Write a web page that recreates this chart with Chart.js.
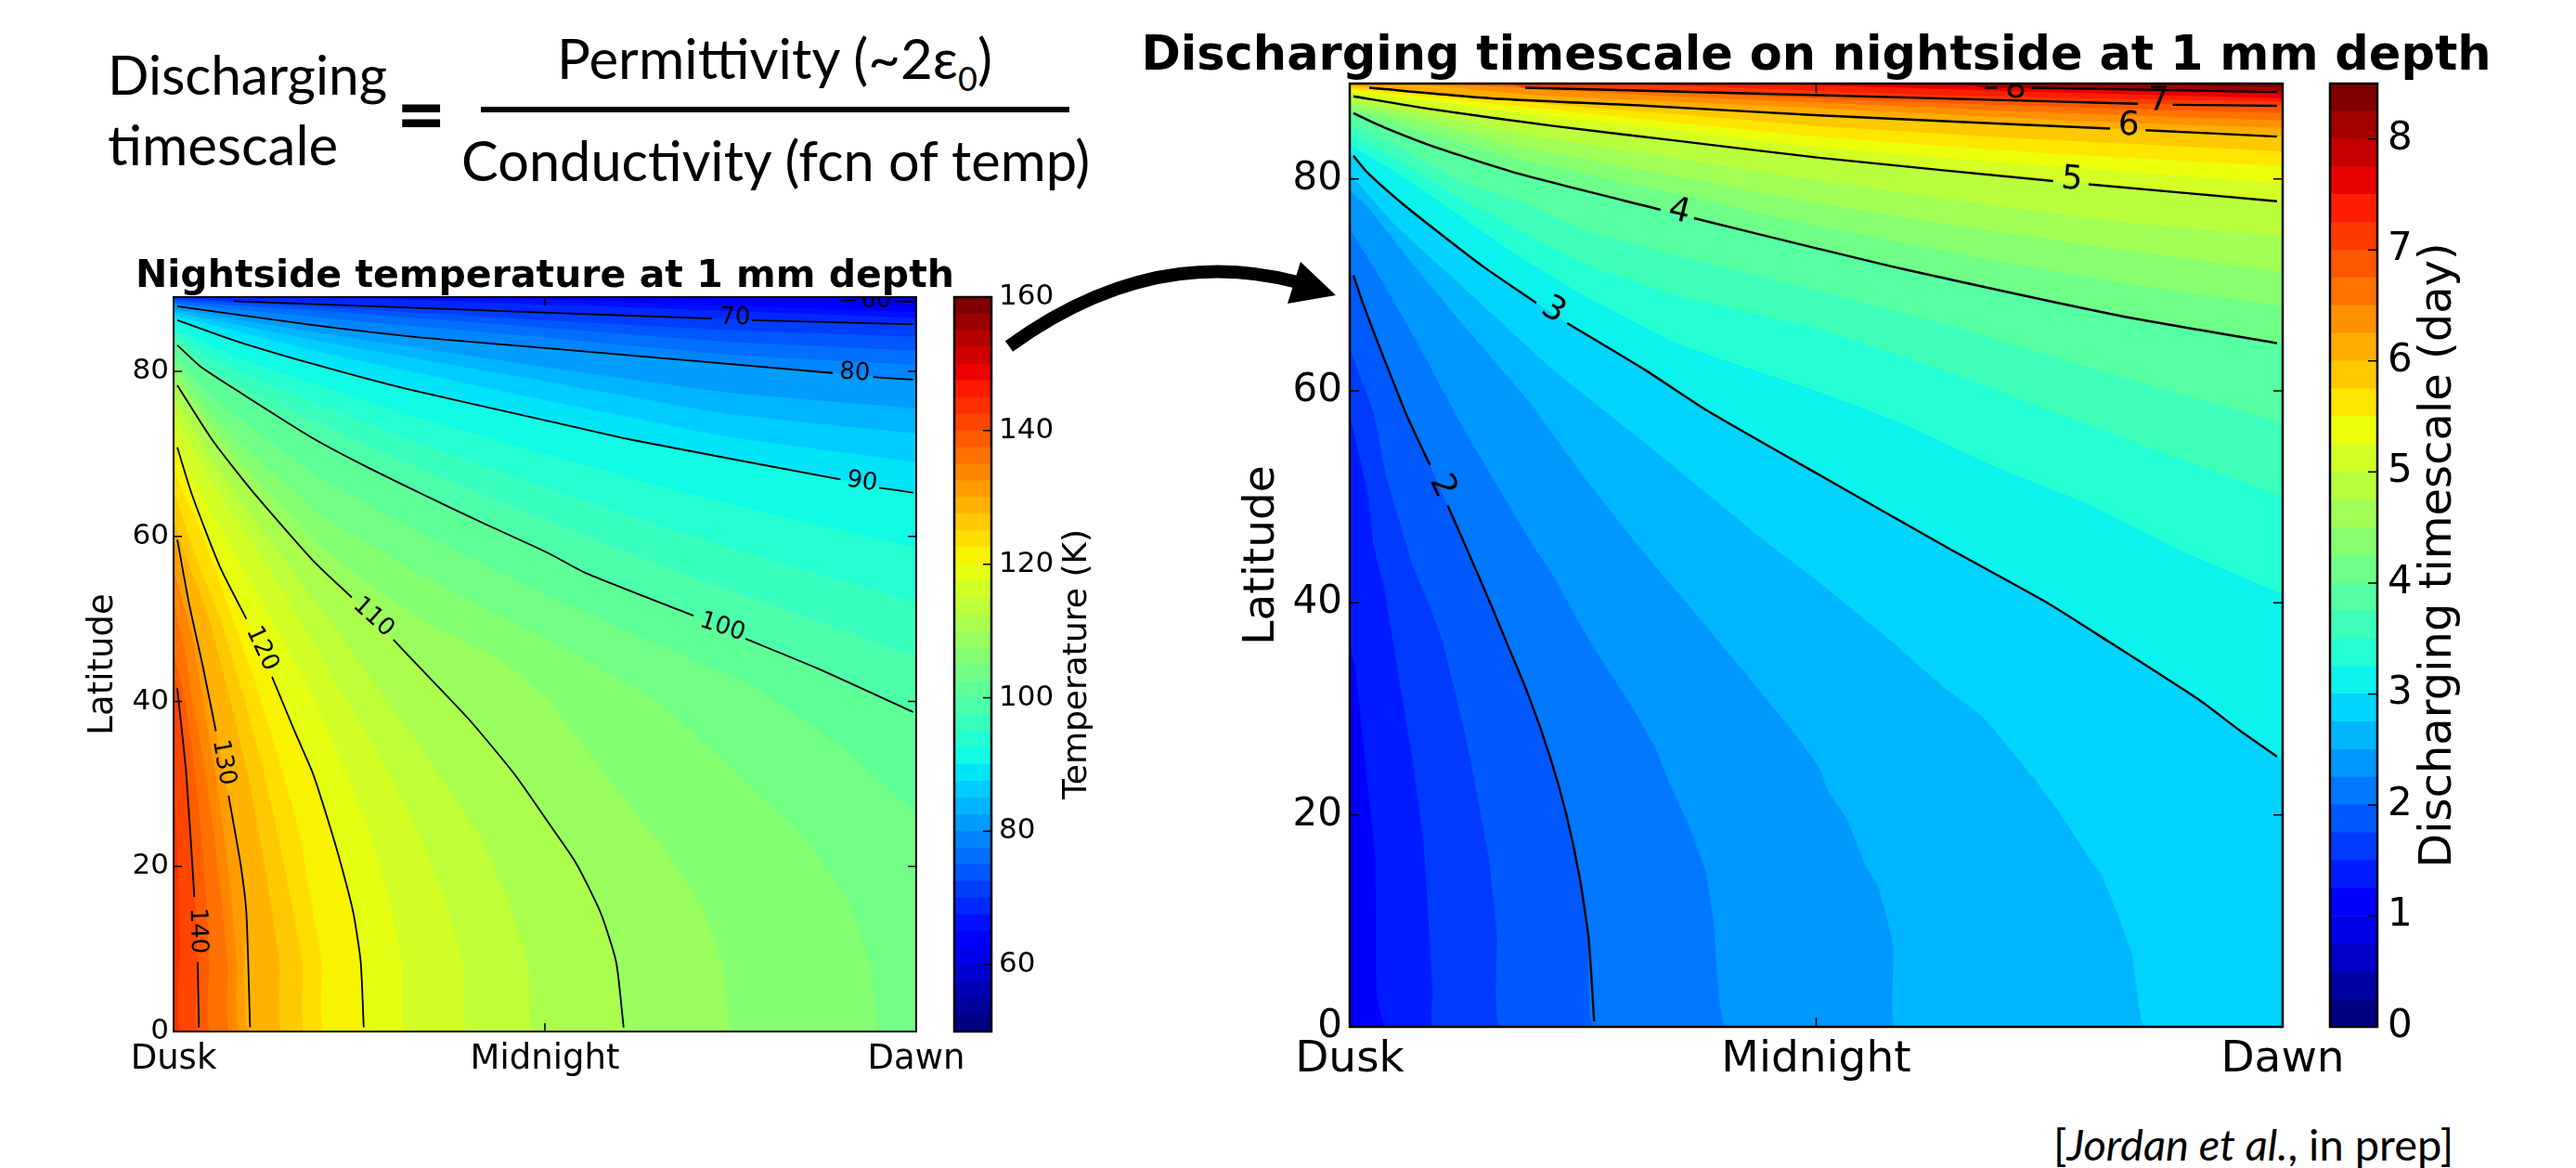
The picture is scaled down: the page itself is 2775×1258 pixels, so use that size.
<!DOCTYPE html>
<html>
<head>
<meta charset="utf-8">
<title>Discharging timescale</title>
<script src="https://cdn.jsdelivr.net/npm/chart.js@4"></script>
<style>
    html, body { margin: 0; background: #fff; }
    #page { position: relative; width: 2775px; height: 1258px; overflow: hidden; }
    canvas { position: absolute; }
    .eq { position: absolute; font-family: Lato, sans-serif; color: #000; white-space: nowrap; line-height: 1; }
    sub { font-size: 60%; line-height: 0; }
</style>
</head>
<body>
<div id="page">
    <canvas id="tempChart" width="1010" height="897" style="left:82px;top:274px"></canvas>
    <canvas id="timeChart" width="1485" height="1144" style="left:1214px;top:32px"></canvas>
    <canvas id="tempBar" width="210" height="831" style="left:1008px;top:300px"></canvas>
    <canvas id="timeBar" width="210" height="1056" style="left:2490px;top:70px"></canvas>

    <div class="eq" style="left:116px;top:50px;font-size:58.5px">Discharging</div>
    <div class="eq" style="left:116px;top:125px;font-size:60px">timescale</div>
    <div class="eq" style="left:427px;top:75px;font-size:92px;font-weight:700">=</div>
    <div class="eq" style="left:600px;top:32px;font-size:60px">Permittivity (~2ε<sub>0</sub>)</div>
    <div style="position:absolute;left:518px;top:115px;width:634px;height:6px;background:#000"></div>
    <div class="eq" style="left:497px;top:143px;font-size:59.5px">Conductivity (fcn of temp)</div>
    <div class="eq" style="left:2212px;top:1209px;font-size:47px">[<i>Jordan et al.</i>, in prep]</div>

    <svg width="2775" height="1258" style="position:absolute;left:0;top:0;pointer-events:none">
        <path d="M1087 373 Q1240 262 1398 304" fill="none" stroke="#000" stroke-width="14"/>
        <polygon points="1401,282 1439,318 1387,327" fill="#000"/>
    </svg>
</div>

<script>
// x axis runs 0 (dusk) .. 50 (midnight) .. 100 (dawn), y axis is latitude
const latMax = 89;
const xTickValues = [0, 50, 100];
const xTickLabels = ["Dusk", "Midnight", "Dawn"];
const latTicks = [0, 20, 40, 60, 80];

// temperature colour bar
const tempLevels = [50, 52.5, 55, 57.5, 60, 62.5, 65, 67.5, 70, 72.5, 75, 77.5, 80, 82.5, 85, 87.5, 90, 92.5, 95, 97.5, 100, 102.5,
    105, 107.5, 110, 112.5, 115, 117.5, 120, 122.5, 125, 127.5, 130, 132.5, 135, 137.5, 140, 142.5, 145, 147.5, 150, 152.5, 155, 157.5];
const tempBarTicks = [60, 80, 100, 120, 140, 160];

// discharging timescale colour bar
const timeLevels = [0, 0.25, 0.5, 0.75, 1, 1.25, 1.5, 1.75, 2, 2.25, 2.5, 2.75, 3, 3.25, 3.5, 3.75, 4, 4.25, 4.5, 4.75, 5, 5.25,
    5.5, 5.75, 6, 6.25, 6.5, 6.75, 7, 7.25, 7.5, 7.75, 8, 8.25];
const timeBarTicks = [0, 1, 2, 3, 4, 5, 6, 7, 8];

// where each filled band of the temperature map starts
const tempEdgeLevels = [57.5, 60, 62.5, 65, 67.5, 70, 72.5, 75, 77.5, 80, 82.5, 85, 87.5, 90, 92.5, 95, 97.5, 100, 102.5, 105, 107.5,
    110, 112.5, 115, 117.5, 120, 122.5, 125, 127.5, 130, 132.5, 135, 137.5, 140, 142.5];
const tempEdges = [
    [[0, 89], [100, 89]],
    [[0, 89], [88, 89], [100, 88.4]],
    [[0, 89], [60, 89], [100, 87.8]],
    [[0, 89], [40, 89], [100, 87.2]],
    [[0, 89], [25, 88.9], [60, 87.8], [100, 86.5]],
    [[0, 89], [8.1, 88.5], [50.4, 87.1], [72.5, 86.4], [100, 85.7]],
    [[0, 88.7], [20, 87.8], [50, 86.2], [75, 85], [100, 84.2]],
    [[0, 88.5], [20, 87.3], [50, 85.3], [75, 83.6], [100, 82.5]],
    [[0, 88.2], [20, 86.5], [50, 84.1], [75, 82], [100, 80.8]],
    [[0, 88], [18.75, 85.6], [33.3, 84.1], [50.4, 82.8], [88.75, 79.8], [100, 79]],
    [[0, 87.5], [20, 84.6], [50, 80.5], [75, 77.4], [100, 75.5]],
    [[0, 87.2], [20, 83.6], [50, 78.8], [75, 74.8], [100, 72.5]],
    [[0, 86.8], [20, 82.3], [50, 76.5], [75, 72], [100, 69]],
    [[0, 86.4], [8.3, 83.7], [18.75, 80.9], [31.25, 77.9], [50.4, 74], [61.7, 71.7], [89.8, 66.9], [100, 65.3]],
    [[0, 85.5], [5, 83.1], [10, 81.2], [20, 78.2], [33, 74.4], [50, 70], [70, 65], [85, 61.8], [100, 58.6]],
    [[0, 84.7], [5, 81.6], [10, 79.5], [20, 75.9], [33, 71.3], [50, 66], [70, 60], [85, 56], [100, 52]],
    [[0, 84], [5, 80.1], [10, 77.7], [20, 73.5], [33, 68.3], [50, 62], [70, 55], [85, 50.3], [100, 45.4]],
    [[0, 83.4], [3.75, 80.5], [9.2, 77.3], [18.75, 71.9], [25.4, 68.7], [33.3, 65.2], [41.7, 61.6], [50.4, 58], [55.4, 55.6], [70, 50.4], [77, 47.6], [86.7, 44], [100, 38.6]],
    [[0, 82], [5, 77], [10, 73.5], [20, 67], [33, 60.6], [50, 53], [65, 47], [78.3, 41.7], [90.8, 33.9], [100, 26.4]],
    [[0, 81], [5, 75], [10, 70.5], [20, 62.5], [33, 55.5], [55.4, 45.1], [65.8, 39.5], [74.2, 32.7], [84.5, 23.8], [90.8, 15.9], [94, 7.6], [95, 0], [100, 0]],
    [[0, 79.8], [5, 73.5], [10, 68], [20, 58.5], [33, 50], [43.8, 45.1], [50.4, 40.2], [57.3, 32], [65.2, 23], [71, 15.1], [74, 7.6], [75.3, 0], [100, 0]],
    [[0, 78.6], [5.2, 71.7], [10.4, 65.7], [18.75, 57.1], [24, 52.6], [29.6, 47.5], [32.1, 45.1], [39.6, 38], [45.8, 31.3], [50.4, 25.4], [54.2, 20.4], [57.5, 14.4], [59.6, 8.4], [60.6, 0], [100, 0]],
    [[0, 77], [5, 69.5], [10, 63], [20, 51], [28, 41], [35, 32], [41, 24], [45, 16], [47.8, 8], [48.5, 0], [100, 0]],
    [[0, 75], [3, 70], [8, 62.5], [15, 53], [22, 42], [28, 33], [33, 24], [36.5, 16], [39, 8], [39.6, 0], [100, 0]],
    [[0, 73], [2, 68], [6, 61.5], [12, 52], [18, 42], [22.5, 33], [26.5, 24], [29, 16], [30.8, 8], [31.25, 0], [100, 0]],
    [[0, 71.2], [2.5, 65], [6.25, 56.3], [9.8, 50], [13.25, 43], [16.25, 36.5], [18.75, 31.3], [20.8, 25.6], [22.5, 20.4], [24.2, 14.4], [25.2, 8.4], [25.6, 0], [100, 0]],
    [[0, 68], [4, 60], [8, 50], [11.5, 41], [14.5, 32], [17, 24], [18.5, 16], [20, 8], [20.4, 0], [100, 0]],
    [[0, 65.5], [2.8, 58], [6.3, 50], [9.3, 41], [12, 32], [14, 24], [15.8, 16], [17.4, 8], [17.7, 0], [100, 0]],
    [[0, 62], [1.5, 58], [4.8, 50], [7.4, 41], [9.8, 32], [11.5, 24], [13, 16], [14.3, 8], [14.6, 0], [100, 0]],
    [[0, 60], [2.1, 51.8], [4, 44], [5.7, 36.4], [7.4, 28.6], [9, 20.4], [9.8, 14.4], [10.3, 0], [100, 0]],
    [[0, 56], [2.5, 48], [4, 40], [5.5, 32], [6.8, 24], [7.8, 16], [8.5, 8], [9, 0], [100, 0]],
    [[0, 52], [1.3, 47], [2.6, 40], [4.2, 32], [5.4, 24], [6.5, 16], [7.3, 8], [7.7, 0], [100, 0]],
    [[0, 46], [1.6, 40], [2.8, 32], [3.7, 24], [4.4, 16], [4.8, 8], [5, 0], [100, 0]],
    [[0, 43], [0.5, 41.6], [1.7, 31.3], [2.8, 16.3], [3.25, 8.4], [3.4, 0], [100, 0]],
    [[0, 30], [0.5, 22], [0.9, 10], [1, 0], [100, 0]]
];

const timeEdgeLevels = [1, 1.25, 1.5, 1.75, 2, 2.25, 2.5, 2.75, 3, 3.25, 3.5, 3.75, 4, 4.25, 4.5, 4.75, 5, 5.25, 5.5, 5.75, 6, 6.25,
    6.5, 6.75, 7, 7.25, 7.5, 7.75, 8, 8.25];
const timeEdges = [
    [[0, 0], [100, 0]],
    [[0, 36], [0.6, 33.8], [1.9, 23], [2.75, 16], [2.9, 3.2], [3.9, 0], [100, 0]],
    [[0, 57.8], [1.9, 50.5], [2.6, 45.2], [3.7, 41.4], [5.7, 30.6], [6.6, 25.9], [7.9, 17.5], [8.9, 3.2], [8.9, 0], [100, 0]],
    [[0, 64], [2.6, 57.8], [3.9, 52], [6.9, 43.2], [8.6, 39.7], [9.9, 36.5], [10.9, 33], [11.9, 29.4], [12.9, 25.4], [13.9, 20.7], [14.9, 16], [15.8, 8.7], [16.2, 0], [100, 0]],
    [[0, 71.4], [1.4, 68.3], [2.9, 64.8], [4.6, 61], [6.2, 57.5], [8.6, 53], [10.5, 49.2], [12.5, 45.2], [15.2, 39.7], [16.7, 36.5], [19.2, 31.2], [21.5, 25.4], [23.2, 20.1], [24.6, 14.3], [25.6, 8.4], [26.2, 0], [100, 0]],
    [[0, 75.3], [2.9, 71.2], [6.9, 65.1], [11.9, 56.9], [19.8, 45.2], [21.8, 42.6], [25.1, 37.3], [27.8, 33.5], [30.4, 30], [32.8, 26.2], [34.4, 22.7], [36.4, 18.9], [38.1, 14.8], [39, 10], [40.4, 0], [100, 0]],
    [[0, 78.8], [1.9, 77.4], [6.9, 71.8], [11.9, 66.5], [19.2, 59], [25.1, 51.9], [31.1, 45.2], [36.1, 40], [41.4, 34.4], [47.4, 28], [50.3, 24.5], [51.3, 22.2], [53.3, 19.6], [55.3, 15.2], [56.7, 13.1], [58.3, 7.5], [58.5, 0], [100, 0]],
    [[0, 80.5], [5, 75.5], [11.9, 70], [21.8, 62], [31.8, 55], [45.4, 45.2], [49.4, 42.6], [54.3, 39.1], [58.3, 36.2], [63.3, 32.3], [67.9, 29.2], [73.2, 23.6], [75.9, 20.4], [79.2, 16], [80.6, 14.3], [82.5, 10.2], [83.9, 6.7], [85.2, 0], [100, 0]],
    [[0, 82.4], [1.9, 80.6], [5.6, 77.7], [9.9, 74.7], [14.2, 71.8], [20, 68.3], [23.3, 66.4], [31.8, 61.9], [38.4, 58.1], [50.3, 52.1], [64.1, 45.2], [74.6, 40.1], [80.2, 37], [90.8, 31], [95.5, 27.9], [100, 25.2]],
    [[0, 83.2], [5, 80.6], [11.9, 76.5], [18.5, 72.5], [25.1, 69], [35, 64.5], [50, 60], [59.3, 56.9], [69.3, 52.8], [79.2, 49.3], [89.2, 44.9], [98.5, 41.4], [100, 40.8]],
    [[0, 84.2], [5, 81.8], [11.9, 78.2], [18.5, 75], [25.1, 72], [35, 69], [50, 65.9], [65, 61.5], [80, 56.5], [100, 50]],
    [[0, 85.2], [5, 83.1], [11.9, 79.8], [18.5, 77.8], [25.1, 75.2], [35, 72.8], [50, 69.5], [65, 66], [80, 62], [100, 57]],
    [[0, 86.3], [3.6, 84.9], [9.5, 82.9], [18.5, 80.4], [33.3, 77.1], [36.9, 76.3], [50.3, 73.4], [59.3, 71.5], [82.5, 67.1], [100, 64.4]],
    [[0, 86.6], [10, 84], [18.5, 81.8], [33, 79], [50, 75.6], [65, 73], [82, 70.3], [100, 68]],
    [[0, 87], [10, 85], [18.5, 83], [33, 80.6], [50, 77.7], [65, 75.6], [82, 73.4], [100, 71.2]],
    [[0, 87.4], [10, 85.8], [18.5, 84.2], [33, 82.2], [50, 79.9], [65, 78], [82, 76], [100, 74.6]],
    [[0, 87.9], [8.6, 86.6], [21.8, 85], [35.1, 83.6], [50.3, 82], [75.4, 79.8], [79.2, 79.5], [100, 77.9]],
    [[0, 88.1], [10, 87.2], [22, 85.8], [35, 84.6], [50, 83], [75, 81.2], [100, 79.6]],
    [[0, 88.4], [10, 87.6], [22, 86.5], [35, 85.3], [50, 84], [75, 82.4], [100, 81.2]],
    [[0, 88.6], [10, 88], [22, 87], [35, 86.1], [50, 85], [75, 83.7], [100, 82.6]],
    [[0, 88.9], [2.1, 88.6], [15.2, 87.6], [31.8, 86.9], [50.3, 86], [81.5, 84.75], [85.3, 84.6], [100, 84]],
    [[7, 89], [20, 87.9], [50, 86.7], [80, 85.4], [100, 84.8]],
    [[10, 89], [30, 88], [50, 87.2], [80, 86.1], [100, 85.5]],
    [[14, 89], [35, 88.2], [50, 87.6], [80, 86.7], [100, 86.2]],
    [[17, 89], [18.8, 88.6], [50.3, 87.9], [84.5, 87.1], [100, 86.9]],
    [[30, 89], [60, 88], [85, 87.5], [100, 87.3]],
    [[45, 89], [70, 88.3], [100, 87.6]],
    [[55, 89], [80, 88.5], [100, 88]],
    [[66, 89], [68.1, 88.6], [100, 88.2]],
    [[80, 89], [100, 88.6]]
];

// contour lines, null leaves the gap for the inline label
const tempContourLabels = ["60", "70", "80", "90", "100", "110", "120", "130", "140"];
const tempLabelX = [94.6, 75.6, 91.7, 92.7, 73.9, 26.9, 11.9, 6.7, 3.25];
const tempLabelLat = [88.5, 86.5, 79.8, 66.6, 49, 50.2, 46.4, 32.6, 12.2];
const tempLabelAngle = [0, 1, 4, 9, 18, 42, 65, 80, 88];
const tempContours = [
    [[89.8, 88.6], [91.9, 88.6], null, [97.1, 88.5], [99.6, 88.4]],
    [[8.1, 88.5], [50.4, 87.1], [72.5, 86.4], null, [77.9, 86.2], [99.6, 85.7]],
    [[0.5, 87.9], [18.75, 85.6], [33.3, 84.1], [50.4, 82.8], [88.75, 79.8], null, [94.2, 79.3], [99.6, 79]],
    [[0.5, 86.2], [8.3, 83.7], [18.75, 80.9], [31.25, 77.9], [50.4, 74], [61.7, 71.7], [89.8, 66.9], null, [95, 65.9], [99.6, 65.3]],
    [[0.5, 83.2], [3.75, 80.5], [9.2, 77.3], [18.75, 71.9], [25.4, 68.7], [33.3, 65.2], [41.7, 61.6], [50.4, 58], [55.4, 55.6], [70, 50.4], null, [77, 47.6], [86.7, 44], [99.6, 38.7]],
    [[0.5, 78.3], [5.2, 71.7], [10.4, 65.7], [18.75, 57.1], [24, 52.6], null, [29.6, 47.5], [32.1, 45.1], [39.6, 38], [45.8, 31.3], [50.4, 25.4], [54.2, 20.4], [57.5, 14.4], [59.6, 8.4], [60.6, 0.5]],
    [[0.5, 70.8], [2.5, 65], [6.25, 56.3], [9.8, 50], null, [13.25, 43], [16.25, 36.5], [18.75, 31.3], [20.8, 25.6], [22.5, 20.4], [24.2, 14.4], [25.2, 8.4], [25.6, 0.5]],
    [[0.5, 59.6], [2.1, 51.8], [4, 44], [5.7, 36.4], null, [7.4, 28.6], [9, 20.4], [9.8, 14.4], [10.3, 0.5]],
    [[0.5, 41.6], [1.7, 31.3], [2.8, 16.3], null, [3.25, 8.4], [3.4, 0.5]]
];

const timeContourLabels = ["2", "3", "4", "5", "6", "7", "8"];
const timeLabelX = [9.9, 21.8, 35.3, 77.4, 83.5, 86.7, 71.4];
const timeLabelLat = [51, 67.6, 76.9, 79.9, 85, 87.3, 88.5];
const timeLabelAngle = [65, 32, 14, 5, 3, 1, 1];
const timeContours = [
    [[0.4, 70.9], [1.4, 68.3], [2.9, 64.8], [4.6, 61], [6.2, 57.5], [8.6, 53], null, [10.5, 49.2], [12.5, 45.2], [15.2, 39.7], [16.7, 36.5], [19.2, 31.2], [21.5, 25.4], [23.2, 20.1], [24.6, 14.3], [25.6, 8.4], [26.2, 0.5]],
    [[0.4, 82.2], [1.9, 80.6], [5.6, 77.7], [9.9, 74.7], [14.2, 71.8], [20, 68.3], null, [23.3, 66.4], [31.8, 61.9], [38.4, 58.1], [50.3, 52.1], [64.1, 45.2], [74.6, 40.1], [80.2, 37], [90.8, 31], [95.5, 27.9], [99.4, 25.5]],
    [[0.4, 86.2], [3.6, 84.9], [9.5, 82.9], [18.5, 80.4], [33.3, 77.1], null, [36.9, 76.3], [50.3, 73.4], [59.3, 71.5], [82.5, 67.1], [99.4, 64.5]],
    [[0.4, 87.8], [8.6, 86.6], [21.8, 85], [35.1, 83.6], [50.3, 82], [75.4, 79.8], null, [79.2, 79.5], [99.4, 77.9]],
    [[2.1, 88.6], [15.2, 87.6], [31.8, 86.9], [50.3, 86], [81.5, 84.75], null, [85.3, 84.6], [99.4, 84]],
    [[18.8, 88.6], [50.3, 87.9], [84.5, 87.1], null, [88.2, 87], [99.4, 86.9]],
    [[68.1, 88.6], [69.4, 88.6], null, [73.1, 88.6], [99.4, 88.2]]
];

// matplotlib jet
function jetChannel(stops, t) {
    for (let i = 1; i < stops.length; i++) {
        if (t <= stops[i][0]) {
            const a = stops[i - 1], b = stops[i];
            return a[1] + (b[1] - a[1]) * (t - a[0]) / (b[0] - a[0]);
        }
    }
    return stops[stops.length - 1][1];
}
function jet(t) {
    const r = jetChannel([[0, 0], [0.35, 0], [0.66, 1], [0.89, 1], [1, 0.5]], t);
    const g = jetChannel([[0, 0], [0.125, 0], [0.375, 1], [0.64, 1], [0.91, 0], [1, 0]], t);
    const b = jetChannel([[0, 0.5], [0.11, 1], [0.34, 1], [0.65, 0], [1, 0]], t);
    return `rgb(${Math.round(r * 255)},${Math.round(g * 255)},${Math.round(b * 255)})`;
}
const bandColor = (levels, level) => jet(levels.indexOf(level) / (levels.length - 1));

const toPoints = (list) => list.map((p) => (p ? { x: p[0], y: p[1] } : { x: NaN, y: NaN }));

// spines, inward ticks and inline contour labels
const framePlugin = {
    id: "frame",
    afterDatasetsDraw(chart, args, opts) {
        const { ctx, chartArea: a, scales } = chart;
        ctx.save();
        ctx.strokeStyle = "#000";
        ctx.lineWidth = opts.tickWidth;
        ctx.beginPath();
        scales.y.ticks.forEach((t) => {
            const py = scales.y.getPixelForValue(t.value);
            if (opts.leftTicks) {
                ctx.moveTo(a.left, py);
                ctx.lineTo(a.left + opts.tickLen, py);
            }
            ctx.moveTo(a.right, py);
            ctx.lineTo(a.right - opts.tickLen, py);
        });
        if (opts.xTicks) {
            scales.x.ticks.forEach((t) => {
                const px = scales.x.getPixelForValue(t.value);
                ctx.moveTo(px, a.top);
                ctx.lineTo(px, a.top + opts.tickLen);
                ctx.moveTo(px, a.bottom);
                ctx.lineTo(px, a.bottom - opts.tickLen);
            });
        }
        ctx.stroke();

        if (opts.labels) {
            ctx.save();
            ctx.beginPath();
            ctx.rect(a.left, a.top, a.width, a.height);
            ctx.clip();
            ctx.fillStyle = "#000";
            ctx.font = opts.labelFont;
            ctx.textAlign = "center";
            ctx.textBaseline = "middle";
            opts.labels.forEach((text, i) => {
                ctx.save();
                ctx.translate(scales.x.getPixelForValue(opts.labelX[i]), scales.y.getPixelForValue(opts.labelLat[i]));
                ctx.rotate(opts.labelAngle[i] * Math.PI / 180);
                ctx.fillText(text, 0, 0);
                ctx.restore();
            });
            ctx.restore();
        }

        ctx.lineWidth = opts.spine;
        ctx.strokeRect(a.left, a.top, a.width, a.height);

        // colour bar caption reads bottom to top, the axis title option cannot do that on the right
        if (opts.caption) {
            ctx.translate(opts.captionX, (a.top + a.bottom) / 2);
            ctx.rotate(-Math.PI / 2);
            ctx.fillStyle = "#000";
            ctx.font = opts.captionFont;
            ctx.textAlign = "center";
            ctx.textBaseline = "middle";
            ctx.fillText(opts.caption, 0, 0);
        }
        ctx.restore();
    },
};

function heatChart(id, cfg) {
    const bands = cfg.edges.map((edge, i) => ({
        data: toPoints(edge),
        fill: cfg.fill,
        backgroundColor: bandColor(cfg.levels, cfg.edgeLevels[i]),
        borderWidth: 0,
        pointRadius: 0,
        tension: 0.1,
        order: cfg.edges.length - i + 1,
    }));
    const lines = cfg.contours.map((line) => ({
        data: toPoints(line),
        fill: false,
        borderColor: "#000",
        borderWidth: cfg.lineWidth,
        pointRadius: 0,
        tension: 0.2,
        spanGaps: false,
        order: 0,
    }));
    return new Chart(document.getElementById(id), {
        type: "line",
        data: { datasets: [...lines, ...bands] },
        plugins: [framePlugin],
        options: {
            responsive: false,
            animation: false,
            events: [],
            layout: { padding: 0 },
            plugins: {
                legend: { display: false },
                tooltip: { enabled: false },
                title: {
                    display: true,
                    text: cfg.title,
                    color: "#000",
                    font: { family: "DejaVu Sans", weight: "bold", size: cfg.titleSize, lineHeight: 1 },
                    padding: { top: 4, bottom: cfg.titleGap },
                },
                frame: {
                    spine: cfg.spine, tickWidth: 1.5, tickLen: cfg.tickLen, leftTicks: true, xTicks: true,
                    labels: cfg.labels, labelX: cfg.labelX, labelLat: cfg.labelLat, labelAngle: cfg.labelAngle,
                    labelFont: `${cfg.labelSize}px "DejaVu Sans"`,
                },
            },
            scales: {
                x: {
                    type: "linear",
                    min: 0,
                    max: 100,
                    grid: { display: false, drawTicks: false },
                    border: { display: false },
                    afterBuildTicks: (s) => { s.ticks = xTickValues.map((v) => ({ value: v })); },
                    afterFit: (s) => { s.height = cfg.xHeight; s.paddingLeft = 0; s.paddingRight = 0; },
                    ticks: {
                        color: "#000",
                        maxRotation: 0,
                        autoSkip: false,
                        padding: cfg.xPad,
                        font: { family: "DejaVu Sans", size: cfg.xSize },
                        callback: (v) => xTickLabels[xTickValues.indexOf(v)],
                    },
                },
                y: {
                    min: 0,
                    max: latMax,
                    grid: { display: false, drawTicks: false },
                    border: { display: false },
                    afterBuildTicks: (s) => { s.ticks = latTicks.map((v) => ({ value: v })); },
                    afterFit: (s) => { s.width = cfg.yWidth; s.paddingTop = 0; s.paddingBottom = 0; },
                    title: {
                        display: true,
                        text: "Latitude",
                        color: "#000",
                        padding: { top: cfg.latPad, bottom: 0 },
                        font: { family: "DejaVu Sans", size: cfg.latSize, lineHeight: 1.2 },
                    },
                    ticks: { color: "#000", padding: cfg.yPad, font: { family: "DejaVu Sans", size: cfg.ySize } },
                },
                // same width as y so the title stays centred over the plot
                yMirror: {
                    position: "right",
                    min: 0,
                    max: latMax,
                    grid: { display: false },
                    border: { display: false },
                    ticks: { display: false },
                    afterFit: (s) => { s.width = cfg.yWidth; s.paddingTop = 0; s.paddingBottom = 0; },
                },
            },
        },
    });
}

function barChart(id, cfg) {
    return new Chart(document.getElementById(id), {
        type: "bar",
        data: {
            labels: [""],
            datasets: cfg.levels.map((level, i) => ({
                data: [[level, level + cfg.step]],
                backgroundColor: jet(i / (cfg.levels.length - 1)),
                grouped: false,
                barPercentage: 1,
                categoryPercentage: 1,
            })),
        },
        plugins: [framePlugin],
        options: {
            responsive: false,
            animation: false,
            events: [],
            layout: { padding: { left: 20, top: 20, bottom: 20, right: 0 } },
            plugins: {
                legend: { display: false },
                tooltip: { enabled: false },
                frame: {
                    spine: cfg.spine, tickWidth: 1.5, tickLen: cfg.tickLen, leftTicks: false, xTicks: false,
                    caption: cfg.caption, captionX: cfg.captionX, captionFont: `${cfg.captionSize}px "DejaVu Sans"`,
                },
            },
            scales: {
                x: { display: false },
                y: {
                    position: "right",
                    min: cfg.min,
                    max: cfg.max,
                    grid: { display: false, drawTicks: false },
                    border: { display: false },
                    afterBuildTicks: (s) => { s.ticks = cfg.ticks.map((v) => ({ value: v })); },
                    afterFit: (s) => { s.width = cfg.axisWidth; s.paddingTop = 0; s.paddingBottom = 0; },
                    ticks: { color: "#000", padding: cfg.tickPad, font: { family: "DejaVu Sans", size: cfg.tickSize } },
                },
            },
        },
    });
}

heatChart("tempChart", {
    title: "Nightside temperature at 1 mm depth", titleSize: 41, titleGap: 1,
    levels: tempLevels, edgeLevels: tempEdgeLevels, edges: tempEdges, fill: "start",
    contours: tempContours, labels: tempContourLabels, labelX: tempLabelX, labelLat: tempLabelLat, labelAngle: tempLabelAngle,
    labelSize: 26, lineWidth: 1.8, spine: 2, tickLen: 9,
    yWidth: 105, xHeight: 60, xPad: 8, xSize: 37, yPad: 5, ySize: 31, latSize: 37, latPad: 7,
});
heatChart("timeChart", {
    title: "Discharging timescale on nightside at 1 mm depth", titleSize: 51, titleGap: 3,
    levels: timeLevels, edgeLevels: timeEdgeLevels, edges: timeEdges, fill: "end",
    contours: timeContours, labels: timeContourLabels, labelX: timeLabelX, labelLat: timeLabelLat, labelAngle: timeLabelAngle,
    labelSize: 36, lineWidth: 2.4, spine: 2.5, tickLen: 10,
    yWidth: 240, xHeight: 70, xPad: 8, xSize: 47, yPad: 8, ySize: 42, latSize: 47, latPad: 118,
});
barChart("tempBar", {
    levels: tempLevels, step: 2.5, min: 50, max: 160, ticks: tempBarTicks,
    caption: "Temperature (K)", captionX: 153, captionSize: 36,
    spine: 2.5, tickLen: 9, axisWidth: 150, tickPad: 8, tickSize: 31,
});
barChart("timeBar", {
    levels: timeLevels, step: 0.25, min: 0, max: 8.5, ticks: timeBarTicks,
    caption: "Discharging timescale (day)", captionX: 138, captionSize: 48,
    spine: 2.5, tickLen: 10, axisWidth: 139, tickPad: 11, tickSize: 42,
});
</script>
</body>
</html>
